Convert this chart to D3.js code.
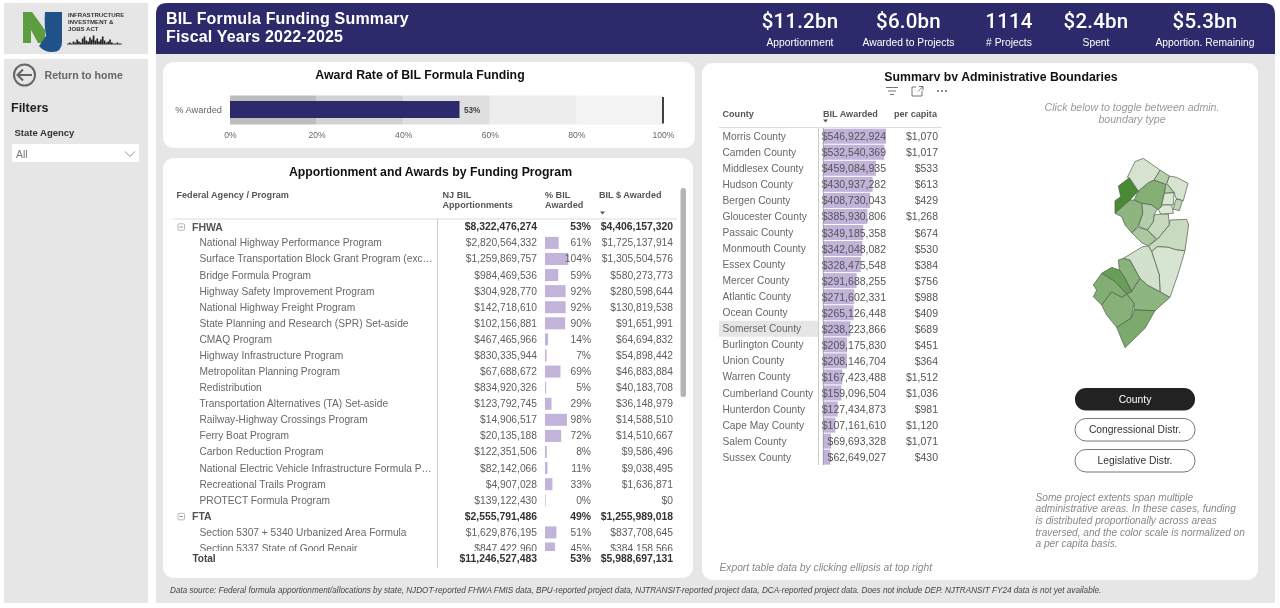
<!DOCTYPE html>
<html><head><meta charset="utf-8">
<script src="https://cdn.jsdelivr.net/npm/d3@7"></script>
<style>html,body{margin:0;padding:0;background:#fff;overflow:hidden}svg{display:block;filter:blur(.3px)}text{font-family:"Liberation Sans",Arial,sans-serif}</style>
</head><body><svg id="c" width="1280" height="608"></svg>
<script>
// ---------- data ----------
const kpiValues = ["$11.2bn","$6.0bn","1114","$2.4bn","$5.3bn"];
const kpiLabels = ["Apportionment","Awarded to Projects","# Projects","Spent","Apportion. Remaining"];
const awardRate = 53;
const rateBands = [20,40,60,80,100];
const rateTicks = [0,20,40,60,80,100];
const programNames = ["FHWA","National Highway Performance Program","Surface Transportation Block Grant Program (exc…","Bridge Formula Program","Highway Safety Improvement Program","National Highway Freight Program","State Planning and Research (SPR) Set-aside","CMAQ Program","Highway Infrastructure Program","Metropolitan Planning Program","Redistribution","Transportation Alternatives (TA) Set-aside","Railway-Highway Crossings Program","Ferry Boat Program","Carbon Reduction Program","National Electric Vehicle Infrastructure Formula P…","Recreational Trails Program","PROTECT Formula Program","FTA","Section 5307 + 5340 Urbanized Area Formula","Section 5337 State of Good Repair"];
const programApportion = [8322476274,2820564332,1259869757,984469536,304928770,142718610,102156881,467465966,830335944,67688672,834920326,123792745,14906517,20135188,122351506,82142066,4907028,139122430,2555791486,1629876195,847422960];
const programPct = [53,61,104,59,92,92,90,14,7,69,5,29,98,72,8,11,33,0,49,51,45];
const programAwarded = [4406157320,1725137914,1305504576,580273773,280598644,130819538,91651991,64694832,54898442,46883884,40183708,36148979,14588510,14510667,9586496,9038495,1636871,0,1255989018,837708645,384158566];
const agencyRows = ["FHWA","FTA"];
const totalRow = [11246527483,53,5988697131];
const countyNames = ["Morris","Camden","Middlesex","Hudson","Bergen","Gloucester","Passaic","Monmouth","Essex","Mercer","Atlantic","Ocean","Somerset","Burlington","Union","Warren","Cumberland","Hunterdon","Cape May","Salem","Sussex"];
const countyAwarded = [546922924,532540369,459084935,430937282,408730043,385930806,349185358,342048082,328475548,291688255,271602331,265126448,238223866,209175830,208146704,167423488,159096504,127434873,107161610,69693328,62649027];
const countyPerCapita = [1070,1017,533,613,429,1268,674,530,384,756,988,409,689,451,364,1512,1036,981,1120,1071,430];
const highlightedCounty = "Somerset";
// county outlines, in map units
const countyShapes = {
 Sussex:[[172,82],[195,35],[220,25],[270,60],[252,90],[235,98],[205,123],[178,83]],
 Warren:[[145,108],[178,83],[205,123],[180,150],[135,190],[135,152],[152,140]],
 Morris:[[205,123],[235,98],[252,90],[288,103],[283,130],[272,175],[262,178],[245,165],[215,160],[192,150]],
 Passaic:[[252,90],[270,60],[298,78],[290,100],[312,128],[283,130],[288,103]],
 Bergen:[[298,78],[320,82],[354,100],[340,152],[318,145],[312,128],[290,100]],
 Essex:[[283,130],[312,128],[310,165],[275,165]],
 Hudson:[[318,148],[338,150],[328,182],[310,178],[314,160]],
 Union:[[265,178],[280,165],[305,165],[310,190],[272,192]],
 Somerset:[[215,160],[245,165],[262,178],[252,195],[250,215],[232,240],[205,228],[218,190]],
 Hunterdon:[[135,190],[180,150],[192,150],[215,160],[218,190],[205,228],[185,248],[165,225],[155,200]],
 Mercer:[[185,248],[205,232],[232,240],[258,268],[235,288],[215,278]],
 Middlesex:[[250,215],[252,195],[272,192],[295,192],[298,225],[262,268],[232,240]],
 Monmouth:[[262,268],[298,225],[300,210],[350,208],[356,225],[345,302],[320,300],[295,292],[262,290],[245,305],[235,288]],
 Ocean:[[245,305],[262,290],[295,292],[320,300],[345,302],[325,370],[300,442],[270,425],[268,375]],
 Burlington:[[218,290],[235,288],[245,305],[268,375],[270,425],[232,405],[210,385],[180,330],[160,325]],
 Camden:[[145,330],[160,325],[180,330],[210,385],[185,425],[165,385],[148,360]],
 Gloucester:[[95,370],[125,352],[148,360],[165,385],[185,425],[170,432],[135,395]],
 Salem:[[70,405],[95,370],[135,395],[170,432],[155,442],[125,425],[95,465],[70,440],[80,420]],
 Cumberland:[[95,465],[125,425],[155,442],[170,432],[192,460],[183,505],[140,532],[110,495]],
 Atlantic:[[170,432],[185,425],[210,385],[232,405],[270,425],[300,442],[255,482],[192,480],[192,460]],
 "Cape May":[[140,532],[183,505],[192,480],[255,482],[225,535],[165,593]]
};
const skylineHeights = [1,2,1,3,2,5,3,2,6,8,4,3,7,5,9,4,6,3,5,8,4,2,3,5,2,1,1,2,1,1];
const adminButtons = ["County","Congressional Distr.","Legislative Distr."];
const noteLines = ["Some project extents span multiple","administrative areas. In these cases, funding","is distributed proportionally across areas","traversed, and the color scale is normalized on","a per capita basis."];
const footerText = "Data source: Federal formula apportionment/allocations by state, NJDOT-reported FHWA FMIS data, BPU-reported project data, NJTRANSIT-reported project data, DCA-reported project data. Does not include DEP. NJTRANSIT FY24 data is not yet available.";

// ---------- helpers ----------
const svg = d3.select("#c");
const NAVY="#2d2a6b", PAGE="#e6e6e6", BAR="#c1b3d9";
const rect=(x,y,w,h,f,r=0,p=svg)=>p.append("rect").attr("x",x).attr("y",y).attr("width",w).attr("height",h).attr("fill",f).attr("rx",r).attr("ry",r);
const text=(s,x,y,o={},p=svg)=>{const t=p.append("text").attr("x",x).attr("y",y).attr("dominant-baseline","central").attr("font-size",o.size||10.25).attr("fill",o.fill||"#666").attr("text-anchor",o.anchor||"start").text(s);
  if(o.bold)t.attr("font-weight",o.bold===true?700:o.bold);if(o.italic)t.attr("font-style","italic");if(o.family)t.style("font-family",o.family);if(o.ls)t.attr("letter-spacing",o.ls);return t;};
const line=(x1,y1,x2,y2,c,w=1,p=svg)=>p.append("line").attr("x1",x1).attr("y1",y1).attr("x2",x2).attr("y2",y2).attr("stroke",c).attr("stroke-width",w);
const money=d3.format("$,");
const sortMark=(x,y)=>svg.append("path").attr("d",`M${x-2.5},${y-1.5}H${x+2.5}L${x},${y+1.5}Z`).attr("fill","#555");

// ---------- page structure ----------
rect(156,54,1119,549,PAGE);
rect(4,3,144,51,PAGE);
rect(4,59,144,544,PAGE);
svg.append("path").attr("d","M156,54V14Q156,3 167,3H1264Q1275,3 1275,14V54Z").attr("fill",NAVY);
rect(163,62,532,86,"#fff",11);
rect(163,158,530,420,"#fff",11);
rect(702,63,556,517,"#fff",11);

// ---------- logo ----------
svg.append("path").attr("d","M23,12H32L45,30V43H38L31,30V43H23Z").attr("fill","#5d9c3f");
svg.append("path").attr("d","M45,12H62V42Q62,52 52,52Q44,52 39,46L46,36Q44,25 45,12Z").attr("fill","#1f5288");
["INFRASTRUCTURE","INVESTMENT &","JOBS ACT"].forEach((s,i)=>text(s,68,14.5+i*6.9,{size:6.1,bold:true,fill:"#333"}));
const skyX=d3.scaleBand().domain(d3.range(skylineHeights.length)).range([67,122]).padding(.1);
svg.append("g").selectAll("rect").data(skylineHeights).join("rect").attr("x",(d,i)=>skyX(i)).attr("width",skyX.bandwidth()).attr("y",d=>44.5-d).attr("height",d=>d).attr("fill","#222");

// ---------- filter panel ----------
svg.append("circle").attr("cx",24.5).attr("cy",75).attr("r",10.5).attr("fill","none").attr("stroke","#666").attr("stroke-width",2);
svg.append("path").attr("d","M32,75H18M23,69.5L17.5,75L23,80.5").attr("fill","none").attr("stroke","#666").attr("stroke-width",2);
text("Return to home",44.5,75,{size:10.6,bold:600,fill:"#666"});
text("Filters",11,108,{size:12.5,bold:true,fill:"#222"});
text("State Agency",14.5,132.5,{size:9.5,bold:true,fill:"#333"});
rect(12,144,127,18,"#fff");
text("All",16,154,{size:10.5,fill:"#777"});
svg.append("path").attr("d","M125,151.5L130,156.5L135,151.5").attr("fill","none").attr("stroke","#777").attr("stroke-width",.8);

// ---------- header ----------
text("BIL Formula Funding Summary",166,18,{size:16,bold:true,fill:"#fff",ls:.18});
text("Fiscal Years 2022-2025",166,36.5,{size:16,bold:true,fill:"#fff",ls:.18});
const kpiX=[800,908.5,1009,1096,1205];
kpiValues.forEach((v,i)=>{text(v,kpiX[i],21,{size:20.5,bold:500,anchor:"middle",fill:"#fff",family:"Roboto",ls:.2});
 text(kpiLabels[i],kpiX[i],42,{size:10.3,anchor:"middle",fill:"#fff"});});

// ---------- bullet chart ----------
text("Award Rate of BIL Formula Funding",420,75,{size:12.3,bold:true,fill:"#111",anchor:"middle"});
const rx=d3.scaleLinear().domain([0,100]).range([230,663]);
const bandFill=["#bdbdbd","#d2d2d2","#dfdfdf","#ededed","#f3f3f3"];
const bul=svg.append("g");
bul.selectAll("rect").data(rateBands).join("rect").attr("x",(d,i)=>rx(i?rateBands[i-1]:0)).attr("width",(d,i)=>rx(d)-rx(i?rateBands[i-1]:0)).attr("y",95.5).attr("height",29).attr("fill",(d,i)=>bandFill[i]);
bul.append("rect").attr("x",rx(0)).attr("y",101).attr("width",rx(awardRate)-rx(0)).attr("height",17).attr("fill",NAVY);
line(rx(100),97,rx(100),123.5,"#111",1.6);
text("% Awarded",222,110,{size:9.3,fill:"#666",anchor:"end"});
text(awardRate+"%",rx(awardRate)+4.5,110.5,{size:8.2,bold:true,fill:"#444"});
const axG=svg.append("g").attr("transform","translate(0,130)").call(d3.axisBottom(rx).tickValues(rateTicks).tickFormat(d=>d+"%").tickSize(0).tickPadding(2));
axG.select(".domain").remove();
axG.selectAll("text").attr("font-size",8.6).attr("fill","#666").style("font-family",'"Liberation Sans"');

// ---------- program table ----------
text("Apportionment and Awards by Funding Program",430.5,172,{size:12.25,bold:true,fill:"#111",anchor:"middle"});
const hd={size:9.1,bold:true,fill:"#555"};
text("Federal Agency / Program",176.5,194.5,hd);
text("NJ BIL",442.5,194.5,hd);text("Apportionments",442.5,205,hd);
text("% BIL",545,194.5,hd);text("Awarded",545,205,hd);
text("BIL $ Awarded",599,194.5,hd);
sortMark(602.5,213);
line(173,219,677,219,"#ddd",1);
line(437.5,219,437.5,568,"#ccc",1);
rect(680.5,188,5.5,209,"#b5b5b5",2.5);

const clip=svg.append("defs");
clip.append("clipPath").attr("id","tbl").append("rect").attr("x",170).attr("y",220).attr("width",510).attr("height",331);
clip.append("clipPath").attr("id","ttl").append("rect").attr("x",800).attr("y",60).attr("width",400).attr("height",21);
const ry=d3.scaleLinear().domain([0,programNames.length-1]).range([226.8,548.5]);
const bx=d3.scaleLinear().domain([0,104]).range([545,568.3]);
const tb=svg.append("g").attr("clip-path","url(#tbl)");
programNames.forEach((n,i)=>{
 const y=ry(i), ag=agencyRows.includes(n), sz=ag?10.4:10.25, c=ag?"#333":"#5e5e5e";
 if(ag){
  tb.append("rect").attr("x",178).attr("y",y-3).attr("width",6.5).attr("height",6.5).attr("fill","none").attr("stroke","#999").attr("stroke-width",.7).attr("rx",1);
  line(179.5,y+.2,183,y+.2,"#777",.8,tb);
  text(n,192,y,{size:10.5,bold:true,fill:"#555"},tb);
 } else {
  text(n,199.5,y,{size:10.2,fill:"#686868"},tb);
  rect(bx(0),y-6,Math.max(bx(programPct[i])-bx(0),.6),12,BAR,0,tb);
 }
 text(money(programApportion[i]),537,y,{size:sz,bold:ag,fill:c,anchor:"end"},tb);
 text(programPct[i]+"%",591,y,{size:sz,bold:ag,fill:c,anchor:"end"},tb);
 text(money(programAwarded[i]),673,y,{size:sz,bold:ag,fill:c,anchor:"end"},tb);
});
text("Total",192.5,558,{size:10,bold:true,fill:"#444"});
text(money(totalRow[0]),537,558,{size:10.4,bold:true,fill:"#333",anchor:"end"});
text(totalRow[1]+"%",591,558,{size:10.4,bold:true,fill:"#333",anchor:"end"});
text(money(totalRow[2]),673,558,{size:10.4,bold:true,fill:"#333",anchor:"end"});

// ---------- county table ----------
text("Summary by Administrative Boundaries",1001,76.5,{size:12.3,bold:true,fill:"#111",anchor:"middle"}).attr("clip-path","url(#ttl)");
svg.append("path").attr("d","M886,87.5H898M888,91H896M890,94.5H894").attr("stroke","#666").attr("stroke-width",.9);
svg.append("path").attr("d","M912,87H916M912,87V96H922V91M919,86.5H923V90.5M923,86.5L918,91.5").attr("fill","none").attr("stroke","#666").attr("stroke-width",.9);
svg.append("g").selectAll("circle").data([938,942,946]).join("circle").attr("cx",d=>d).attr("cy",91).attr("r",.9).attr("fill","#555");
text("County",722.5,113.5,hd);
text("BIL Awarded",823,113.5,hd);
text("per capita",894,113.5,hd);
sortMark(825.5,121);
line(719,127.5,942,127.5,"#ddd",1);
const cy=d3.scaleLinear().domain([0,countyNames.length-1]).range([136.2,457.2]);
const cb=d3.scaleLinear().domain([0,546922924]).range([823,886]);
rect(719,cy(countyNames.indexOf(highlightedCounty))-8,99,16,"#e6e6e6");
countyNames.forEach((n,i)=>{const y=cy(i);
 rect(cb(0),y-7.5,cb(countyAwarded[i])-cb(0),15,BAR);
 text(n+" County",722.5,y,{size:10.2,fill:"#686868"});
 text(money(countyAwarded[i]),886,y,{size:10.5,fill:"#555",anchor:"end"});
 text(money(countyPerCapita[i]),938,y,{size:10.5,fill:"#555",anchor:"end"});
});
line(818.5,128,818.5,465,"#ccc",1);
line(823.3,128,823.3,465,"#888",.6);

// ---------- map ----------
text("Click below to toggle between admin.",1132,107,{size:10.6,italic:true,fill:"#999",anchor:"middle"});
text("boundary type",1132,119,{size:10.6,italic:true,fill:"#999",anchor:"middle"});
const mx=d3.scaleLinear().domain([0,390]).range([1070,1200]);
const my=d3.scaleLinear().domain([0,615]).range([150,355]);
const color=d3.scaleLinear().domain([364,1512]).range(["#dde8d8","#4a8a35"]);
const shape=d3.line().x(d=>mx(d[0])).y(d=>my(d[1])).curve(d3.curveLinearClosed);
svg.append("g").selectAll("path").data(countyNames).join("path")
 .attr("d",n=>shape(countyShapes[n]))
 .attr("fill",(n,i)=>color(countyPerCapita[i]))
 .attr("stroke","#4f5f4a").attr("stroke-width",.7).attr("stroke-linejoin","round");

// ---------- toggle buttons ----------
const btnY=[388,418.5,449.5];
adminButtons.forEach((b,i)=>{const on=i===0;
 const r=rect(1075,btnY[i],120,22.5,on?"#222":"#fff",11);
 if(!on)r.attr("stroke","#555").attr("stroke-width",.8);
 text(b,1135,btnY[i]+11.2,{size:10.3,anchor:"middle",fill:on?"#fff":"#333"});
});
noteLines.forEach((s,i)=>text(s,1035.5,497+i*11.7,{size:10.15,italic:true,fill:"#888"}));
text("Export table data by clicking ellipsis at top right",719.5,567,{size:10.25,italic:true,fill:"#888"});
text(footerText,170,590,{size:8.17,italic:true,fill:"#444"});
</script></body></html>
